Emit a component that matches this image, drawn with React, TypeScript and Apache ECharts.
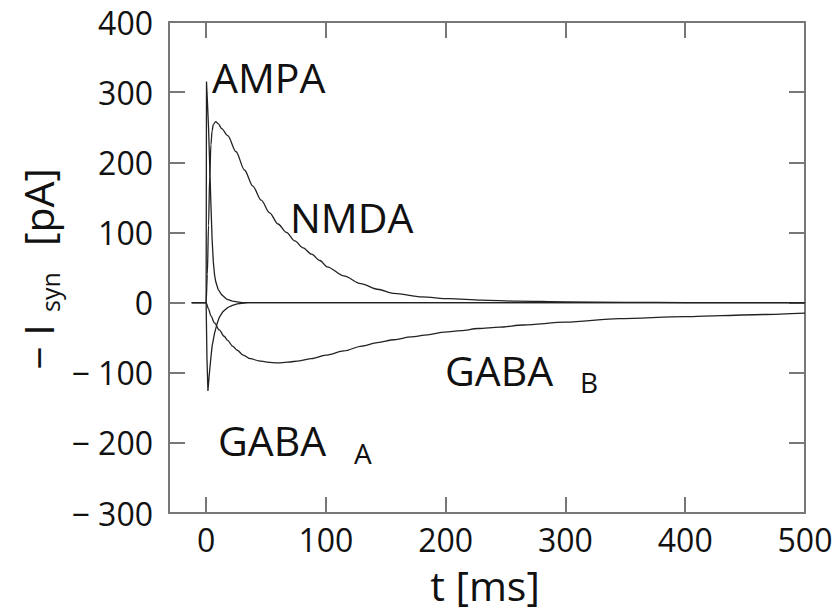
import React, { useEffect, useRef } from "react";
import * as echarts from "echarts";

// ---- data ----
const xTicks = [0, 100, 200, 300, 400, 500];
const yTicks = [-300, -200, -100, 0, 100, 200, 300, 400];

const ampaT = [-12, 0, 0.3, 1, 2, 3, 4, 5, 6, 7, 8, 10, 13, 17, 22, 30, 500];
const ampaV = [0, 0, 315, 290, 250, 195, 140, 90, 58, 40, 30, 19, 11, 5, 2, 0, 0];

const nmdaT = [-12, 0, 1, 2, 3, 4, 5, 6, 8, 10, 13, 18, 25, 32, 39, 46, 53, 60, 67, 74, 81, 88, 95, 101, 115, 129, 143, 157, 180, 203, 230, 260, 300, 350, 400, 500];
const nmdaV = [0, 0, 40, 110, 180, 225, 245, 254, 258, 255, 248, 238, 215, 189, 166, 146, 128, 112, 100, 88, 78, 69, 60, 51, 38, 27, 19, 13, 8, 5.5, 3.5, 2, 1, 0.3, 0, 0];

const gabaAT = [-12, 0, 0.7, 1.5, 2.5, 4, 5, 7, 9, 11, 14, 18, 22, 26, 35, 500];
const gabaAV = [0, 0, -80, -126, -105, -78, -62, -44, -31, -21, -13, -7, -4, -2, 0, 0];

const gabaBT = [-12, 0, 2, 4, 7, 11, 15, 18, 22, 26, 31, 37, 44, 51, 60, 68, 78, 88, 100, 115, 130, 143, 157, 171, 185, 199, 213, 227, 245, 265, 300, 345, 400, 430, 465, 500];
const gabaBV = [0, 0, -9, -19, -29, -39, -48, -54, -62, -68, -75, -80, -83, -85, -86, -85, -83, -80, -75, -69, -62, -57, -53, -49, -46, -42, -40, -37, -35, -32, -28, -23, -20, -18.5, -17, -15];

const FONT = "'Open Sans', 'Noto Sans', sans-serif";
const FRAME = "#777";
const CURVE = "#222";
const TEXT = "#111";

const pairs = (t: number[], v: number[]) => t.map((x, i) => [x, v[i]]);

function txt(text: string, x: number, y: number, size: number, extra: any = {}) {
  const align = extra.align || "left";
  return {
    type: "text",
    x,
    y,
    rotation: extra.rotation || 0,
    silent: true,
    style: {
      text,
      fontSize: size,
      fontFamily: FONT,
      fill: TEXT,
      align,
      textAlign: align,
      verticalAlign: "middle",
      textVerticalAlign: "middle",
    },
  };
}

export default function App() {
  const ref = useRef<HTMLDivElement>(null);
  useEffect(() => {
    if (!ref.current) return;
    const chart = echarts.init(ref.current, undefined, { renderer: "svg" });
    const axisLineStyle = { color: FRAME, width: 2 };
    const lineSeries = (name: string, t: number[], v: number[], smooth: boolean) => ({
      name,
      type: "line",
      data: pairs(t, v),
      showSymbol: false,
      symbol: "none",
      smooth: smooth ? 0.3 : false,
      smoothMonotone: smooth ? "x" : undefined,
      lineStyle: { color: CURVE, width: 1.3 },
      silent: true,
    });
    const labelStyle = { fontSize: 32, fontFamily: FONT, color: TEXT };
    chart.setOption({
      animation: false,
      grid: { left: 169, top: 22, width: 636, height: 491, containLabel: false },
      xAxis: [
        {
          type: "value",
          min: -31,
          max: 500,
          position: "bottom",
          axisLine: { show: true, onZero: false, lineStyle: axisLineStyle },
          axisTick: { show: true, inside: true, length: 16, customValues: xTicks, lineStyle: axisLineStyle },
          axisLabel: { show: true, customValues: xTicks, margin: 10, ...labelStyle },
          splitLine: { show: false },
        },
        {
          type: "value",
          min: -31,
          max: 500,
          position: "top",
          axisLine: { show: true, onZero: false, lineStyle: axisLineStyle },
          axisTick: { show: true, inside: true, length: 16, customValues: xTicks, lineStyle: axisLineStyle },
          axisLabel: { show: false },
          splitLine: { show: false },
        },
      ],
      yAxis: [
        {
          type: "value",
          min: -300,
          max: 400,
          position: "left",
          axisLine: { show: true, onZero: false, lineStyle: axisLineStyle },
          axisTick: { show: true, inside: true, length: 16, customValues: yTicks, lineStyle: axisLineStyle },
          axisLabel: {
            show: true,
            customValues: yTicks,
            margin: 16,
            ...labelStyle,
            formatter: (v: number) => (v < 0 ? "\u2212 " + Math.abs(v) : String(v)),
          },
          splitLine: { show: false },
        },
        {
          type: "value",
          min: -300,
          max: 400,
          position: "right",
          axisLine: { show: true, onZero: false, lineStyle: axisLineStyle },
          axisTick: { show: true, inside: true, length: 16, customValues: yTicks, lineStyle: axisLineStyle },
          axisLabel: { show: false },
          splitLine: { show: false },
        },
      ],
      series: [
        lineSeries("GABA_B", gabaBT, gabaBV, true),
        lineSeries("GABA_A", gabaAT, gabaAV, false),
        lineSeries("NMDA", nmdaT, nmdaV, true),
        lineSeries("AMPA", ampaT, ampaV, false),
      ],
      graphic: [
        txt("AMPA", 212, 77, 41),
        txt("NMDA", 290, 217, 41),
        txt("GABA", 218, 440, 41),
        txt("A", 354, 453, 28),
        txt("GABA", 445, 370, 41),
        txt("B", 580, 382, 28),
        txt("t [ms]", 485, 585, 41, { align: "center" }),
        txt("\u2212", 38, 358, 41, { align: "center", rotation: Math.PI / 2 }),
        txt("I", 38, 330, 41, { align: "center", rotation: Math.PI / 2 }),
        txt("syn", 50, 292, 25, { align: "center", rotation: Math.PI / 2 }),
        txt("[pA]", 38, 207, 41, { align: "center", rotation: Math.PI / 2 }),
      ],
    });
    return () => chart.dispose();
  }, []);
  return <div ref={ref} style={{ width: 839, height: 613, position: "absolute", left: 0, top: 0 }} />;
}
